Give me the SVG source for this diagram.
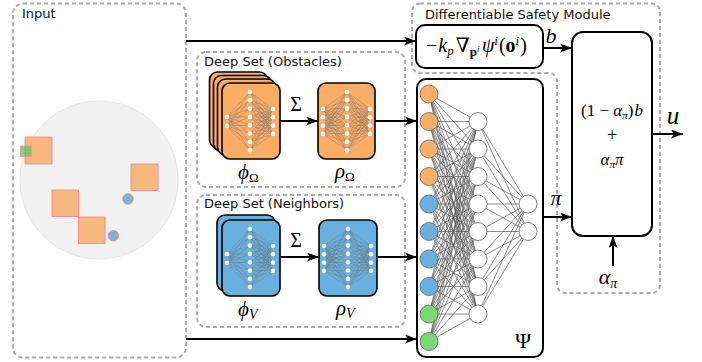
<svg xmlns="http://www.w3.org/2000/svg" xmlns:xlink="http://www.w3.org/1999/xlink" width="702" height="362" viewBox="0 0 702 362">
<style>
.dash{fill:none;stroke:#aaaaaa;stroke-width:2;stroke-dasharray:4 3}
.lbl{font-family:"DejaVu Sans",sans-serif;font-size:13px;fill:#111}
.box{fill:#fff;stroke:#000;stroke-width:2}
.conn{stroke:#000;stroke-width:2;fill:none;marker-end:url(#ah)}
.math{font-family:"Liberation Serif","DejaVu Serif",serif;fill:#000}
.it{font-style:italic}
.org{fill:#fbad68;stroke:#000;stroke-width:1.6}
.blu{fill:#6ab0de;stroke:#000;stroke-width:1.6}
.nne{fill:none;stroke:#6a6a6a;stroke-width:0.35}
.nnn{fill:#fff}
.pe{fill:none;stroke:#555;stroke-width:0.8;stroke-opacity:0.85}
.pn{stroke:#666;stroke-width:0.8}
</style>
<defs>
<marker id="ah" markerUnits="userSpaceOnUse" markerWidth="13" markerHeight="10" refX="12" refY="4.5" orient="auto">
<path d="M0,0 L12,4.5 L0,9 L3,4.5 z" fill="#000"/>
</marker>
<g id="nnPhi">
<path class="nne" d="M5 34L28 9M5 34L28 17.3M5 34L28 25.6M5 34L28 33.9M5 34L28 42.2M5 34L28 50.5M5 34L28 58.8M5 34L28 67.1M5 43L28 9M5 43L28 17.3M5 43L28 25.6M5 43L28 33.9M5 43L28 42.2M5 43L28 50.5M5 43L28 58.8M5 43L28 67.1M51 26L28 9M51 26L28 17.3M51 26L28 25.6M51 26L28 33.9M51 26L28 42.2M51 26L28 50.5M51 26L28 58.8M51 26L28 67.1M51 34.3L28 9M51 34.3L28 17.3M51 34.3L28 25.6M51 34.3L28 33.9M51 34.3L28 42.2M51 34.3L28 50.5M51 34.3L28 58.8M51 34.3L28 67.1M51 42.6L28 9M51 42.6L28 17.3M51 42.6L28 25.6M51 42.6L28 33.9M51 42.6L28 42.2M51 42.6L28 50.5M51 42.6L28 58.8M51 42.6L28 67.1M51 50.9L28 9M51 50.9L28 17.3M51 50.9L28 25.6M51 50.9L28 33.9M51 50.9L28 42.2M51 50.9L28 50.5M51 50.9L28 58.8M51 50.9L28 67.1"/>
<g class="nnn">
<circle cx="5" cy="34" r="2.3"/><circle cx="5" cy="43" r="2.3"/>
<circle cx="28" cy="9" r="2.3"/><circle cx="28" cy="17.3" r="2.3"/><circle cx="28" cy="25.6" r="2.3"/><circle cx="28" cy="33.9" r="2.3"/><circle cx="28" cy="42.2" r="2.3"/><circle cx="28" cy="50.5" r="2.3"/><circle cx="28" cy="58.8" r="2.3"/><circle cx="28" cy="67.1" r="2.3"/>
<circle cx="51" cy="26" r="2.3"/><circle cx="51" cy="34.3" r="2.3"/><circle cx="51" cy="42.6" r="2.3"/><circle cx="51" cy="50.9" r="2.3"/>
</g>
</g>
<g id="nnRho">
<path class="nne" d="M5 26L29 9M5 26L29 17.3M5 26L29 25.6M5 26L29 33.9M5 26L29 42.2M5 26L29 50.5M5 26L29 58.8M5 26L29 67.1M5 34.3L29 9M5 34.3L29 17.3M5 34.3L29 25.6M5 34.3L29 33.9M5 34.3L29 42.2M5 34.3L29 50.5M5 34.3L29 58.8M5 34.3L29 67.1M5 42.6L29 9M5 42.6L29 17.3M5 42.6L29 25.6M5 42.6L29 33.9M5 42.6L29 42.2M5 42.6L29 50.5M5 42.6L29 58.8M5 42.6L29 67.1M5 50.9L29 9M5 50.9L29 17.3M5 50.9L29 25.6M5 50.9L29 33.9M5 50.9L29 42.2M5 50.9L29 50.5M5 50.9L29 58.8M5 50.9L29 67.1M52 26L29 9M52 26L29 17.3M52 26L29 25.6M52 26L29 33.9M52 26L29 42.2M52 26L29 50.5M52 26L29 58.8M52 26L29 67.1M52 34.3L29 9M52 34.3L29 17.3M52 34.3L29 25.6M52 34.3L29 33.9M52 34.3L29 42.2M52 34.3L29 50.5M52 34.3L29 58.8M52 34.3L29 67.1M52 42.6L29 9M52 42.6L29 17.3M52 42.6L29 25.6M52 42.6L29 33.9M52 42.6L29 42.2M52 42.6L29 50.5M52 42.6L29 58.8M52 42.6L29 67.1M52 50.9L29 9M52 50.9L29 17.3M52 50.9L29 25.6M52 50.9L29 33.9M52 50.9L29 42.2M52 50.9L29 50.5M52 50.9L29 58.8M52 50.9L29 67.1"/>
<g class="nnn">
<circle cx="5" cy="26" r="2.3"/><circle cx="5" cy="34.3" r="2.3"/><circle cx="5" cy="42.6" r="2.3"/><circle cx="5" cy="50.9" r="2.3"/>
<circle cx="29" cy="9" r="2.3"/><circle cx="29" cy="17.3" r="2.3"/><circle cx="29" cy="25.6" r="2.3"/><circle cx="29" cy="33.9" r="2.3"/><circle cx="29" cy="42.2" r="2.3"/><circle cx="29" cy="50.5" r="2.3"/><circle cx="29" cy="58.8" r="2.3"/><circle cx="29" cy="67.1" r="2.3"/>
<circle cx="52" cy="26" r="2.3"/><circle cx="52" cy="34.3" r="2.3"/><circle cx="52" cy="42.6" r="2.3"/><circle cx="52" cy="50.9" r="2.3"/>
</g>
</g>
</defs>

<rect width="702" height="362" fill="#fff"/>

<!-- Input -->
<g id="input">
<rect class="dash" x="13" y="3.5" width="173" height="354" rx="10"/>
<text class="lbl" x="22" y="18">Input</text>
<circle cx="99" cy="180" r="79" fill="#f1f1f1" stroke="#e6e6e6" stroke-width="1"/>
<g fill="#f7b77e" stroke="#f08a8a" stroke-width="0.9">
<rect x="25" y="137" width="27" height="27"/>
<rect x="131" y="164" width="27" height="26.5"/>
<rect x="52" y="190" width="26.5" height="26.5"/>
<rect x="78.5" y="217" width="26.5" height="26.5"/>
</g>
<rect x="20.5" y="146" width="11" height="10.5" fill="#6cc26c" fill-opacity="0.8" stroke="#f08a8a" stroke-width="0.6"/>
<g fill="#7fb0d8" stroke="#f08a8a" stroke-width="0.9">
<circle cx="128" cy="199" r="5.3"/>
<circle cx="113.3" cy="235.7" r="5.3"/>
</g>
</g>

<!-- Deep set obstacles -->
<g id="deepset-obstacles">
<rect class="dash" x="197" y="52" width="208" height="135" rx="9"/>
<text class="lbl" x="204" y="66">Deep Set (Obstacles)</text>
</g>
<g id="phi-omega">
<rect class="org" x="209.5" y="72" width="58" height="76" rx="8"/>
<rect class="org" x="213.5" y="75.5" width="58" height="76" rx="8"/>
<rect class="org" x="217.5" y="79" width="58" height="76" rx="8"/>
<rect class="org" x="222" y="83" width="58" height="76" rx="8"/>
<use xlink:href="#nnPhi" x="222" y="83"/>
<text class="math it" x="238" y="179" font-size="21">ϕ<tspan font-style="normal" font-size="13" dy="3">Ω</tspan></text>
</g>
<g id="rho-omega">
<rect class="org" x="318" y="83" width="57" height="76" rx="8"/>
<use xlink:href="#nnRho" x="318" y="83"/>
<text class="math it" x="335" y="178" font-size="21">ρ<tspan font-style="normal" font-size="13" dy="3">Ω</tspan></text>
</g>

<!-- Deep set neighbors -->
<g id="deepset-neighbors">
<rect class="dash" x="197" y="195" width="208" height="132" rx="9"/>
<text class="lbl" x="204" y="208">Deep Set (Neighbors)</text>
</g>
<g id="phi-v">
<rect class="blu" x="217" y="215" width="58" height="76" rx="8"/>
<rect class="blu" x="222" y="220" width="58" height="76" rx="8"/>
<use xlink:href="#nnPhi" x="222" y="220"/>
<text class="math it" x="238" y="316" font-size="21">ϕ<tspan font-size="14" dy="3">V</tspan></text>
</g>
<g id="rho-v">
<rect class="blu" x="319" y="220" width="58" height="76" rx="8"/>
<use xlink:href="#nnRho" x="319" y="220"/>
<text class="math it" x="336" y="315" font-size="21">ρ<tspan font-size="14" dy="3">V</tspan></text>
</g>

<!-- Safety module -->
<g id="safety-module">
<path class="dash" d="M420 3.5H652A8 8 0 0 1 660 11.5V285A8 8 0 0 1 652 293H565A8 8 0 0 1 557 285V81A8 8 0 0 0 549 73H420A8 8 0 0 1 412 65V11.5A8 8 0 0 1 420 3.5Z"/>
<text class="lbl" x="425" y="19">Differentiable Safety Module</text>
</g>
<g id="barrier">
<rect class="box" x="416" y="25" width="127" height="43" rx="9"/>
<text class="math" x="426" y="52" font-size="20">−<tspan class="it" dx="1">k</tspan><tspan class="it" font-size="13" dy="3">p</tspan><tspan dx="2" dy="-3">∇</tspan><tspan font-weight="bold" font-size="13" dy="4">p</tspan><tspan class="it" font-size="9" dy="-4">i</tspan><tspan class="it" dx="2.5">ψ</tspan><tspan class="it" font-size="13" dy="-7">i</tspan><tspan dx="1" dy="7">(</tspan><tspan font-weight="bold">o</tspan><tspan class="it" font-size="13" dy="-7">i</tspan><tspan dx="1" dy="7">)</tspan></text>
</g>
<g id="mix">
<rect class="box" x="572" y="32" width="80" height="204" rx="11"/>
<text class="math" x="612" y="116" font-size="17" text-anchor="middle">(1 − <tspan class="it">α</tspan><tspan class="it" font-size="11" dy="3">π</tspan><tspan dy="-3">)</tspan><tspan class="it" dx="1">b</tspan></text>
<text class="math" x="612" y="141" font-size="18" text-anchor="middle">+</text>
<text class="math it" x="612" y="165" font-size="17" text-anchor="middle">α<tspan font-size="11" dy="3">π</tspan><tspan dy="-3">π</tspan></text>
</g>

<!-- Psi -->
<g id="psi">
<rect class="box" x="417" y="79" width="126" height="278" rx="9"/>
<path class="pe" d="M429 94L478 121.5M429 94L478 149M429 94L478 176.5M429 94L478 204M429 94L478 231.5M429 94L478 259M429 94L478 286.5M429 94L478 314M429 121.5L478 121.5M429 121.5L478 149M429 121.5L478 176.5M429 121.5L478 204M429 121.5L478 231.5M429 121.5L478 259M429 121.5L478 286.5M429 121.5L478 314M429 149L478 121.5M429 149L478 149M429 149L478 176.5M429 149L478 204M429 149L478 231.5M429 149L478 259M429 149L478 286.5M429 149L478 314M429 176.5L478 121.5M429 176.5L478 149M429 176.5L478 176.5M429 176.5L478 204M429 176.5L478 231.5M429 176.5L478 259M429 176.5L478 286.5M429 176.5L478 314M429 204L478 121.5M429 204L478 149M429 204L478 176.5M429 204L478 204M429 204L478 231.5M429 204L478 259M429 204L478 286.5M429 204L478 314M429 231.5L478 121.5M429 231.5L478 149M429 231.5L478 176.5M429 231.5L478 204M429 231.5L478 231.5M429 231.5L478 259M429 231.5L478 286.5M429 231.5L478 314M429 259L478 121.5M429 259L478 149M429 259L478 176.5M429 259L478 204M429 259L478 231.5M429 259L478 259M429 259L478 286.5M429 259L478 314M429 286.5L478 121.5M429 286.5L478 149M429 286.5L478 176.5M429 286.5L478 204M429 286.5L478 231.5M429 286.5L478 259M429 286.5L478 286.5M429 286.5L478 314M429 314L478 121.5M429 314L478 149M429 314L478 176.5M429 314L478 204M429 314L478 231.5M429 314L478 259M429 314L478 286.5M429 314L478 314M429 341.5L478 121.5M429 341.5L478 149M429 341.5L478 176.5M429 341.5L478 204M429 341.5L478 231.5M429 341.5L478 259M429 341.5L478 286.5M429 341.5L478 314M528 204L478 121.5M528 204L478 149M528 204L478 176.5M528 204L478 204M528 204L478 231.5M528 204L478 259M528 204L478 286.5M528 204L478 314M528 231.5L478 121.5M528 231.5L478 149M528 231.5L478 176.5M528 231.5L478 204M528 231.5L478 231.5M528 231.5L478 259M528 231.5L478 286.5M528 231.5L478 314"/>
<g class="pn" fill="#fbad68">
<circle cx="429" cy="94" r="9"/><circle cx="429" cy="121.5" r="9"/><circle cx="429" cy="149" r="9"/><circle cx="429" cy="176.5" r="9"/>
</g>
<g class="pn" fill="#6ab0de">
<circle cx="429" cy="204" r="9"/><circle cx="429" cy="231.5" r="9"/><circle cx="429" cy="259" r="9"/><circle cx="429" cy="286.5" r="9"/>
</g>
<g class="pn" fill="#78d878">
<circle cx="429" cy="314" r="9"/><circle cx="429" cy="341.5" r="9"/>
</g>
<g class="pn" fill="#fff">
<circle cx="478" cy="121.5" r="9"/><circle cx="478" cy="149" r="9"/><circle cx="478" cy="176.5" r="9"/><circle cx="478" cy="204" r="9"/><circle cx="478" cy="231.5" r="9"/><circle cx="478" cy="259" r="9"/><circle cx="478" cy="286.5" r="9"/><circle cx="478" cy="314" r="9"/>
<circle cx="528" cy="204" r="9"/><circle cx="528" cy="231.5" r="9"/>
</g>
<text class="math" x="523" y="348" font-size="22" text-anchor="middle">Ψ</text>
</g>

<!-- Connectors -->
<g id="connectors">
<path class="conn" d="M186 41H416"/>
<path class="conn" d="M186 339H417"/>
<path class="conn" d="M280 121H318"/>
<path class="conn" d="M375 121H417"/>
<path class="conn" d="M280 257H319"/>
<path class="conn" d="M377 257H417"/>
<path class="conn" d="M543 48H572"/>
<path class="conn" d="M543 217H572"/>
<path class="conn" d="M652 134H683"/>
<path class="conn" d="M613 266V236"/>
<text class="math" x="296" y="111" font-size="20" text-anchor="middle">Σ</text>
<text class="math" x="296" y="247" font-size="20" text-anchor="middle">Σ</text>
<text class="math it" x="551" y="43" font-size="22" text-anchor="middle">b</text>
<text class="math it" x="556" y="205" font-size="22" text-anchor="middle">π</text>
<text class="math it" x="673" y="124" font-size="25" text-anchor="middle">u</text>
<text class="math it" x="608" y="284" font-size="22" text-anchor="middle">α<tspan font-size="14" dy="4">π</tspan></text>
</g>
</svg>
